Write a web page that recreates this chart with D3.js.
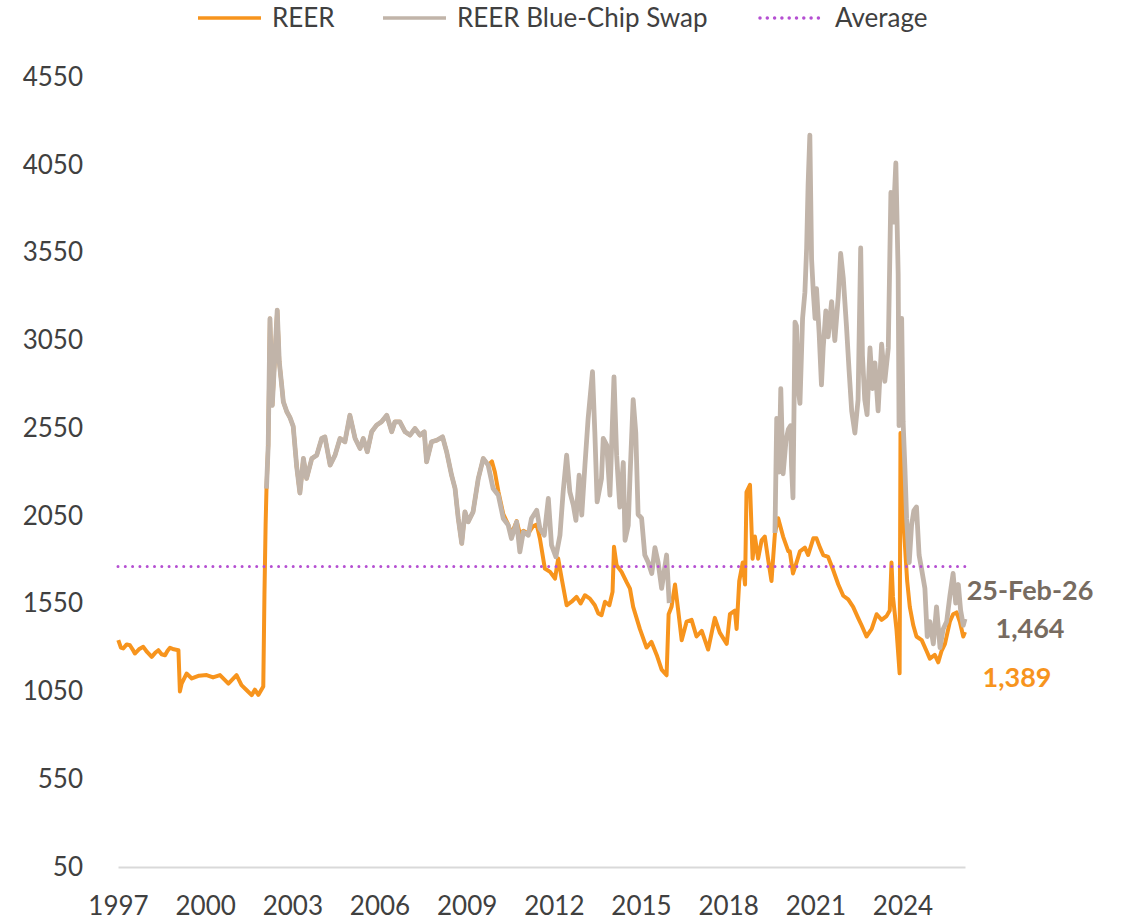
<!DOCTYPE html>
<html>
<head>
<meta charset="utf-8">
<script src="https://cdn.jsdelivr.net/npm/d3@7"></script>
<style>
  body { margin: 0; background: #fff; }
  svg { display: block; font-family: Lato, "Open Sans", sans-serif; }
</style>
</head>
<body>
<svg id="chart" width="1124" height="923"></svg>
<script>
// ---- data (decimal year, index value) ----
const yearTicks = [1997, 2000, 2003, 2006, 2009, 2012, 2015, 2018, 2021, 2024];
const valueTicks = [50, 550, 1050, 1550, 2050, 2550, 3050, 3550, 4050, 4550];
const average = 1762;
const lastDateLabel = '25-Feb-26';

// official REER before the 2002 devaluation
const reerPre2002 = [
  [1997.01, 1342], [1997.10, 1300], [1997.18, 1295], [1997.30, 1318], [1997.41, 1313],
  [1997.50, 1290], [1997.58, 1266], [1997.72, 1290], [1997.87, 1304], [1998.00, 1275],
  [1998.16, 1247], [1998.28, 1270], [1998.39, 1285], [1998.50, 1262], [1998.62, 1256],
  [1998.70, 1280], [1998.79, 1299], [1998.92, 1290], [1999.08, 1285],
  [1999.13, 1050], [1999.19, 1095], [1999.36, 1152], [1999.54, 1124], [1999.79, 1140],
  [2000.05, 1143], [2000.27, 1130], [2000.51, 1143], [2000.80, 1095], [2001.08, 1143],
  [2001.25, 1086], [2001.43, 1057], [2001.60, 1029], [2001.71, 1060], [2001.83, 1030],
  [2002.00, 1078], [2002.04, 1600], [2002.08, 2000]
];

// both series move together (no capital controls)
const shared2002 = [
  [2002.11, 2205], [2002.17, 2453], [2002.23, 3174], [2002.31, 2680], [2002.40, 2965],
  [2002.48, 3222], [2002.55, 2928], [2002.63, 2800], [2002.69, 2700], [2002.81, 2643],
  [2002.92, 2610], [2003.03, 2560], [2003.15, 2330], [2003.26, 2180], [2003.38, 2377],
  [2003.49, 2263], [2003.67, 2377], [2003.84, 2396], [2004.01, 2491], [2004.12, 2500],
  [2004.30, 2339], [2004.47, 2396], [2004.64, 2491], [2004.81, 2472], [2004.98, 2623],
  [2005.16, 2491], [2005.33, 2434], [2005.44, 2491], [2005.58, 2415], [2005.73, 2529],
  [2005.90, 2567], [2006.07, 2586], [2006.25, 2623], [2006.42, 2529], [2006.53, 2586],
  [2006.70, 2586], [2006.88, 2529], [2007.05, 2510], [2007.22, 2548], [2007.39, 2510],
  [2007.54, 2529], [2007.62, 2358], [2007.79, 2472], [2007.97, 2481], [2008.17, 2500],
  [2008.31, 2415], [2008.48, 2282], [2008.60, 2206], [2008.71, 2035], [2008.83, 1893],
  [2008.94, 2073], [2009.05, 2016], [2009.22, 2073], [2009.40, 2263], [2009.57, 2377],
  [2009.74, 2339]
];

const reer2010 = [
  [2009.87, 2360], [2009.97, 2300], [2010.09, 2190], [2010.26, 2060], [2010.43, 2000],
  [2010.54, 1945], [2010.72, 2020], [2010.83, 1950], [2010.95, 1965], [2011.12, 1950],
  [2011.28, 1990], [2011.41, 2000], [2011.52, 1921], [2011.69, 1750], [2011.87, 1731],
  [2012.04, 1693], [2012.15, 1807], [2012.27, 1693], [2012.44, 1541], [2012.61, 1561],
  [2012.78, 1589], [2012.92, 1551], [2013.07, 1598], [2013.24, 1579], [2013.41, 1541],
  [2013.53, 1494], [2013.64, 1484], [2013.76, 1561], [2013.91, 1541], [2014.02, 1617],
  [2014.07, 1874], [2014.16, 1769], [2014.33, 1731], [2014.50, 1674], [2014.62, 1636],
  [2014.73, 1532], [2014.96, 1406], [2015.19, 1300], [2015.36, 1332], [2015.54, 1258],
  [2015.71, 1174], [2015.88, 1142]
];

const bcs2010 = [
  [2009.91, 2206], [2010.09, 2168], [2010.26, 2035], [2010.43, 1997], [2010.54, 1921],
  [2010.72, 2016], [2010.83, 1845], [2010.95, 1959], [2011.12, 1940], [2011.23, 2035],
  [2011.41, 2082], [2011.52, 1978], [2011.67, 1940], [2011.81, 2149], [2011.92, 1883],
  [2012.07, 1817], [2012.21, 1940], [2012.32, 2187], [2012.44, 2396], [2012.55, 2187],
  [2012.67, 2111], [2012.76, 2025], [2012.87, 2282], [2012.96, 2054], [2013.07, 2339],
  [2013.18, 2605], [2013.33, 2871], [2013.41, 2529], [2013.49, 2130], [2013.64, 2263],
  [2013.70, 2491], [2013.82, 2453], [2013.93, 2168], [2014.07, 2842], [2014.16, 2396],
  [2014.27, 2100], [2014.39, 2354], [2014.45, 1911], [2014.56, 1995], [2014.62, 2269],
  [2014.73, 2712], [2014.82, 2522], [2014.90, 2058], [2015.02, 2037], [2015.13, 1827],
  [2015.25, 1784], [2015.37, 1722], [2015.48, 1869], [2015.59, 1784], [2015.71, 1637],
  [2015.88, 1827], [2015.97, 1553]
];

// official REER 2016-2019 (no separate blue-chip series in these years)
const reer2016 = [
  [2015.95, 1490], [2016.05, 1532], [2016.17, 1659], [2016.28, 1511], [2016.40, 1342],
  [2016.57, 1448], [2016.74, 1458], [2016.91, 1363], [2017.09, 1395], [2017.31, 1289],
  [2017.54, 1469], [2017.71, 1385], [2017.95, 1321], [2018.06, 1490], [2018.23, 1511],
  [2018.29, 1406], [2018.38, 1679], [2018.50, 1784], [2018.58, 1659], [2018.63, 2185],
  [2018.75, 2227], [2018.84, 1806], [2018.92, 1932], [2019.03, 1806], [2019.15, 1911],
  [2019.26, 1932], [2019.38, 1796], [2019.49, 1679], [2019.61, 1953]
];

const reer2020 = [
  [2019.72, 2037], [2019.89, 1932], [2020.07, 1848], [2020.12, 1848], [2020.23, 1722],
  [2020.35, 1784], [2020.47, 1848], [2020.64, 1869], [2020.75, 1827], [2020.93, 1922],
  [2021.04, 1922], [2021.16, 1869], [2021.27, 1827], [2021.44, 1816], [2021.61, 1743],
  [2021.79, 1659], [2021.96, 1595], [2022.13, 1574], [2022.30, 1532], [2022.47, 1469],
  [2022.59, 1427], [2022.76, 1363], [2022.94, 1406], [2023.11, 1490], [2023.28, 1458],
  [2023.45, 1479], [2023.56, 1511], [2023.62, 1784], [2023.67, 1590], [2023.79, 1406],
  [2023.90, 1153], [2023.93, 2522], [2024.00, 2101], [2024.08, 1890], [2024.16, 1679],
  [2024.25, 1532], [2024.37, 1427], [2024.48, 1363], [2024.66, 1342], [2024.83, 1279],
  [2024.94, 1237], [2025.11, 1258], [2025.23, 1216], [2025.34, 1279], [2025.46, 1321],
  [2025.63, 1448], [2025.74, 1490], [2025.86, 1500], [2025.97, 1448], [2026.09, 1363],
  [2026.15, 1389]
];

const bcs2020 = [
  [2019.61, 1953], [2019.67, 2606], [2019.75, 2300], [2019.81, 2775], [2019.89, 2290],
  [2019.99, 2480], [2020.07, 2543], [2020.15, 2564], [2020.18, 2332], [2020.23, 2153],
  [2020.30, 3154], [2020.35, 3133], [2020.41, 2775], [2020.47, 2691], [2020.56, 3175],
  [2020.64, 3323], [2020.70, 3576], [2020.75, 3934], [2020.81, 4219], [2020.87, 3513],
  [2020.93, 3323], [2020.99, 3175], [2021.04, 3344], [2021.13, 3091], [2021.21, 2796],
  [2021.27, 3007], [2021.36, 3218], [2021.44, 3070], [2021.56, 3271], [2021.67, 3049],
  [2021.79, 3302], [2021.87, 3545], [2021.96, 3407], [2022.07, 3133], [2022.16, 2880],
  [2022.25, 2648], [2022.36, 2522], [2022.47, 2712], [2022.56, 3576], [2022.62, 2965],
  [2022.70, 2712], [2022.78, 2627], [2022.88, 3007], [2022.97, 2775], [2023.05, 2922],
  [2023.16, 2648], [2023.28, 3028], [2023.39, 2817], [2023.51, 3007], [2023.60, 3892],
  [2023.68, 3723], [2023.77, 4060], [2023.85, 3428], [2023.88, 2564], [2023.97, 3175],
  [2024.02, 2585], [2024.08, 2332], [2024.14, 2037], [2024.23, 1784], [2024.31, 1995],
  [2024.39, 2080], [2024.48, 2101], [2024.57, 1827], [2024.66, 1743], [2024.77, 1637],
  [2024.85, 1363], [2024.94, 1448], [2025.06, 1321], [2025.17, 1532], [2025.29, 1300],
  [2025.40, 1406], [2025.52, 1448], [2025.63, 1595], [2025.74, 1722], [2025.83, 1553],
  [2025.92, 1659], [2026.00, 1511], [2026.09, 1427], [2026.15, 1464]
];

const reer = [].concat(reerPre2002, shared2002, reer2010, reer2016, reer2020);
const bcsSegments = [[].concat(shared2002, bcs2010), bcs2020];

const reerColor = '#f7941d';
const bcsColor = '#c1b4a9';

// ---- layout ----
const svg = d3.select('#chart');
const textColor = '#404040';
const fontSize = 26;

const x = d3.scaleLinear().domain([1997, 2026.15]).range([118, 965]);
const y = d3.scaleLinear().domain([50, 4550]).range([867, 77]);

// x axis (baseline + year labels)
const xAxis = svg.append('g')
  .attr('transform', `translate(0,${y(50)})`)
  .call(d3.axisBottom(x).tickValues(yearTicks).tickFormat(d3.format('d')).tickSize(0).tickSizeOuter(0).tickPadding(30));
xAxis.select('.domain').attr('stroke', '#d9d9d9').attr('stroke-width', 2);
xAxis.selectAll('text').attr('fill', textColor).style('font-size', `${fontSize}px`).style('font-family', 'Lato');

// y axis (labels only)
const yAxis = svg.append('g')
  .attr('transform', `translate(${x(1997)},0)`)
  .call(d3.axisLeft(y).tickValues(valueTicks).tickFormat(d3.format('d')).tickSize(0).tickPadding(35));
yAxis.select('.domain').remove();
yAxis.selectAll('text').attr('fill', textColor).style('font-size', `${fontSize}px`).style('font-family', 'Lato');

// series lines: REER first, blue-chip swap drawn on top
const line = d3.line().x(d => x(d[0])).y(d => y(d[1]));
const plot = svg.append('g');
plot.append('path')
  .attr('d', line(reer))
  .attr('fill', 'none')
  .attr('stroke', reerColor)
  .attr('stroke-width', 4)
  .attr('stroke-linejoin', 'round');
plot.selectAll('path.bcs')
  .data(bcsSegments)
  .join('path')
  .attr('class', 'bcs')
  .attr('d', d => line(d))
  .attr('fill', 'none')
  .attr('stroke', bcsColor)
  .attr('stroke-width', 4.8)
  .attr('stroke-linejoin', 'round');

// average (dotted)
const avgColor = '#b54fd2';
svg.append('path')
  .attr('d', line([[x.domain()[0], average], [x.domain()[1], average]]))
  .attr('fill', 'none')
  .attr('stroke', avgColor)
  .attr('stroke-width', 3)
  .attr('stroke-linecap', 'round')
  .attr('stroke-dasharray', '0 7.3');

// end-of-series annotations
const lastReer = reer[reer.length - 1];
const lastBcs = bcs2020[bcs2020.length - 1];
const annX = x(lastBcs[0]) + 65;
const ann = svg.append('g').attr('text-anchor', 'middle').style('font-weight', 700).style('font-size', '27px');
ann.append('text').attr('x', annX).attr('y', y(lastBcs[1]) - 19).attr('fill', '#776b60').text(lastDateLabel);
ann.append('text').attr('x', annX).attr('y', y(lastBcs[1]) + 19).attr('fill', '#776b60').text(d3.format(',')(lastBcs[1]));
ann.append('text').attr('x', annX - 13).attr('y', y(lastReer[1]) + 55).attr('fill', reerColor).text(d3.format(',')(lastReer[1]));

// legend
const legendItems = [
  { name: 'REER', color: reerColor, dash: null, x: 198 },
  { name: 'REER Blue-Chip Swap', color: bcsColor, dash: null, x: 383 },
  { name: 'Average', color: avgColor, dash: '0 7.3', x: 760 }
];
const legend = svg.append('g').attr('transform', 'translate(0,18)');
const li = legend.selectAll('g').data(legendItems).join('g')
  .attr('transform', d => `translate(${d.x},0)`);
li.append('line')
  .attr('x1', 0).attr('x2', 63)
  .attr('stroke', d => d.color)
  .attr('stroke-width', 3.5)
  .attr('stroke-linecap', d => d.dash ? 'round' : 'butt')
  .attr('stroke-dasharray', d => d.dash);
li.append('text')
  .attr('x', d => d.dash ? 75 : 74)
  .attr('dy', '0.35em')
  .attr('fill', textColor)
  .style('font-size', `${fontSize}px`)
  .text(d => d.name);
</script>
</body>
</html>
